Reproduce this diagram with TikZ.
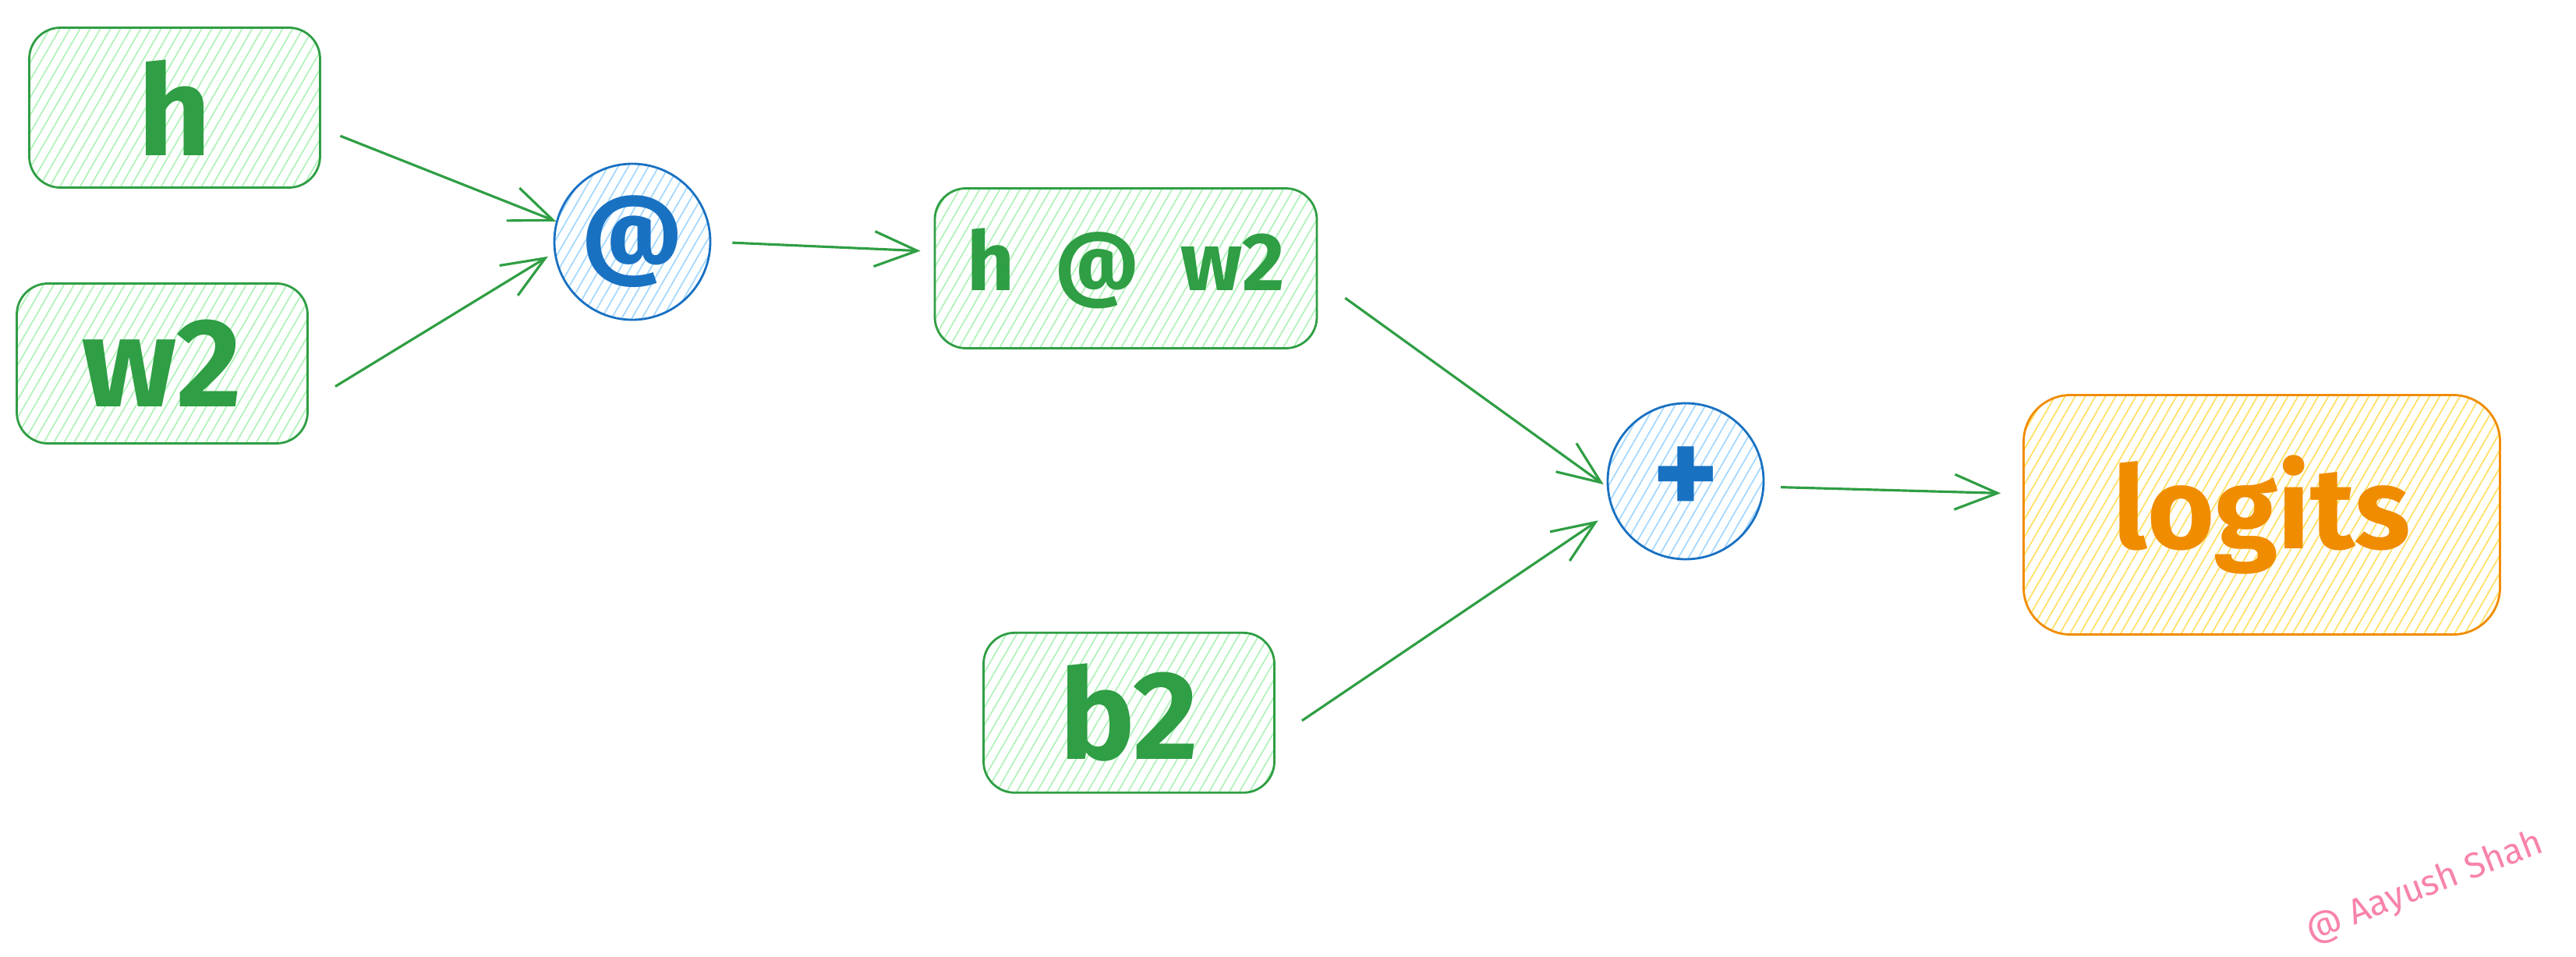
\documentclass[tikz,border=0pt]{standalone}
\usepackage{fontspec}
\setmainfont{Fira Sans}
\usepackage{tikz}
\usetikzlibrary{positioning,arrows.meta,patterns.meta}
\definecolor{grn}{HTML}{2F9E44}
\definecolor{grnfill}{HTML}{B2F2BB}
\definecolor{blu}{HTML}{1971C2}
\definecolor{blufill}{HTML}{A5D8FF}
\definecolor{org}{HTML}{F08C00}
\definecolor{orgfill}{HTML}{FFE066}
\definecolor{pnk}{HTML}{F783AC}
\tikzset{
every picture/.style={
line width=1pt
},
tensor/.style={
  draw=grn, line width=0.8pt, rounded corners=0.4cm,
  pattern={Lines[angle=60,distance=3.2pt,line width=0.5pt]}, pattern color=grnfill,
  minimum width=3.73cm, minimum height=2.05cm, inner sep=0pt,
  text=grn, font=\bfseries\fontsize{46}{46}\selectfont
},
op/.style={
  circle, draw=blu, line width=0.8pt,
  pattern={Lines[angle=60,distance=3.2pt,line width=0.5pt]}, pattern color=blufill,
  minimum size=2cm, inner sep=0pt,
  text=blu, font=\bfseries\fontsize{36}{36}\selectfont
},
result/.style={
  tensor, draw=org, pattern color=orgfill, text=org,
  rounded corners=0.6cm, minimum width=6.11cm, minimum height=3.07cm,
  font=\bfseries\fontsize{42}{42}\selectfont
},
flow/.style={
  draw=grn, line width=0.9pt, -{Straight Barb[length=0.55cm,width=0.45cm]}
}
}

\begin{document}
\begin{tikzpicture}
  \useasboundingbox (0,0) rectangle (33.04,-12.27);

  \node [tensor] (h) at (2.24,-1.38) {h};
  \node [tensor] (w) at (2.08,-4.66) {w2};
  \node [op] (mm) at (8.11,-3.10) {@};
  \node [tensor, minimum width=4.9cm, font=\bfseries\fontsize{30}{30}\selectfont] (hw) at (14.44,-3.44) {h\enspace @\enspace w2};
  \node [tensor, below=3.62cm of hw, xshift=0.04cm] (b) {b2};
  \node [op, font=\bfseries\fontsize{46}{46}\selectfont] (plus) at (21.62,-6.17) {+};
  \node [result] (logits) at (29.01,-6.60) {logits};
  \node [text=pnk, rotate=21, font=\fontsize{13}{13}\selectfont] (sig) at (31.1,-11.38) {@ Aayush Shah};

  \draw [flow, shorten <=0.27cm] (h.-8) -- (mm.165);
  \draw [flow, shorten <=0.4cm, shorten >=0.09cm] (w.-15) -- (mm.188);
  \draw [flow, shorten <=0.27cm, shorten >=0.17cm] (mm.east) -- (hw.175);
  \draw [flow, shorten <=0.43cm, shorten >=0.05cm] (hw.-3) -- (plus.184);
  \draw [flow, shorten <=0.41cm, shorten >=0.22cm] (b.-10) -- (plus.202);
  \draw [flow, shorten <=0.21cm, shorten >=0.28cm] (plus.-4) -- (logits.175);
\end{tikzpicture}
\end{document}
